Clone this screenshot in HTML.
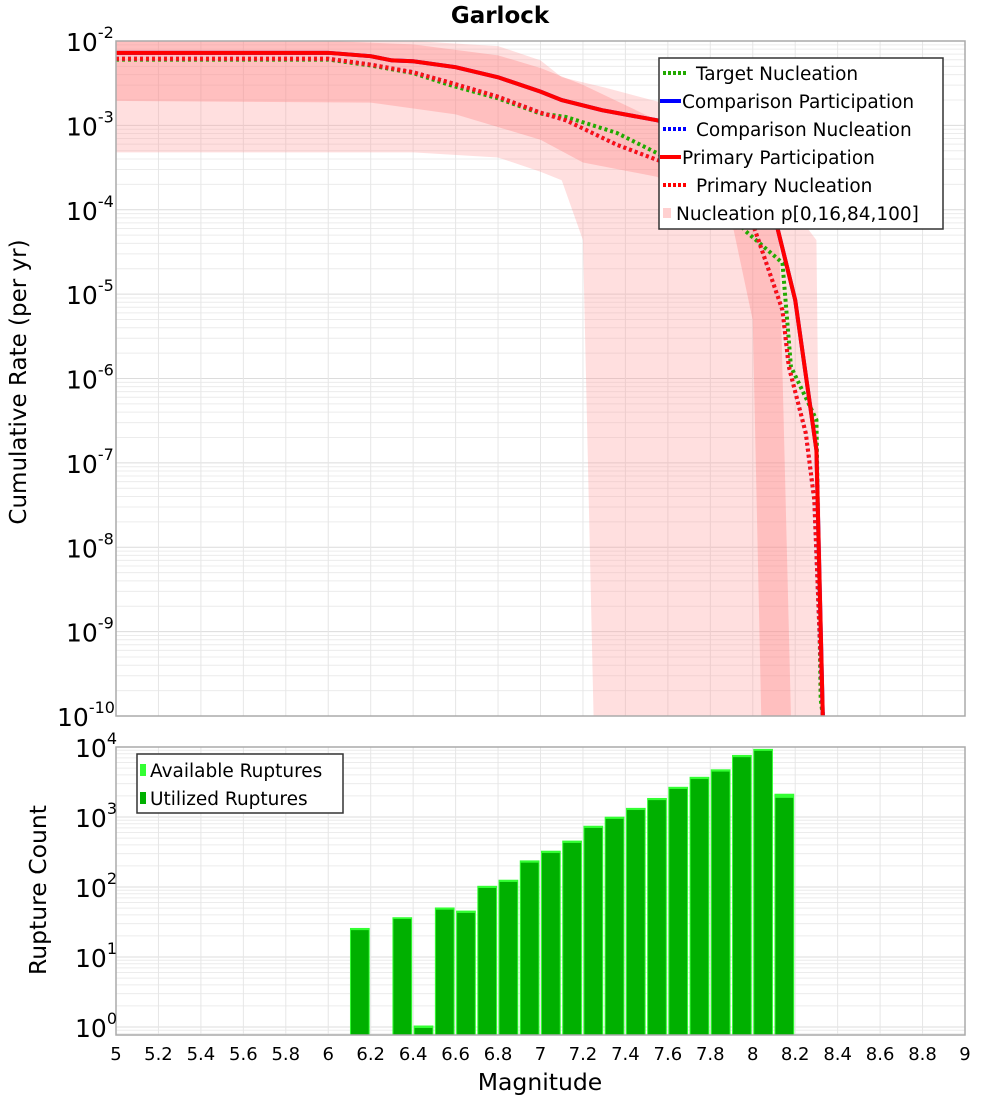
<!DOCTYPE html>
<html><head><meta charset="utf-8"><style>
html,body{margin:0;padding:0;background:#fff;}
svg{display:block;font-family:"DejaVu Sans","Liberation Sans",sans-serif;}
</style></head><body>
<svg id="chart" width="1000" height="1100" viewBox="0 0 1000 1100" xmlns="http://www.w3.org/2000/svg">
<text x="500" y="23" text-anchor="middle" font-size="23" font-weight="bold">Garlock</text>
<g id="topPlot"></g>
<g id="botPlot"></g>
<text transform="translate(26,382) rotate(-90)" text-anchor="middle" font-size="23">Cumulative Rate (per yr)</text>
<text transform="translate(46,890) rotate(-90)" text-anchor="middle" font-size="23.5">Rupture Count</text>
<text x="540" y="1090" text-anchor="middle" font-size="23.5">Magnitude</text>
</svg>
<script>
// ---- data (magnitude, log10 rate) ----
const primPartM = [5,6.0,6.2,6.3,6.4,6.6,6.8,7.0,7.1,7.29,7.55,7.83,7.99,8.1,8.2,8.3,8.33];
const primPartR = [-2.14,-2.14,-2.18,-2.23,-2.24,-2.31,-2.43,-2.6,-2.7,-2.82,-2.94,-3.14,-3.49,-4.05,-5.07,-6.85,-10];
const primNuclM = [5,6.0,6.2,6.4,6.57,6.8,7.0,7.12,7.36,7.55,7.83,7.99,8.14,8.17,8.25,8.29,8.33];
const primNuclR = [-2.21,-2.21,-2.28,-2.37,-2.49,-2.66,-2.85,-2.94,-3.23,-3.41,-3.61,-4.09,-5.19,-5.86,-6.65,-7.44,-10];
const targetM = [5,6.0,6.2,6.4,6.57,6.8,7.0,7.12,7.36,7.55,7.83,7.96,8.14,8.18,8.3,8.32,8.33];
const targetR = [-2.22,-2.22,-2.29,-2.38,-2.52,-2.68,-2.86,-2.9,-3.09,-3.33,-3.73,-4.24,-4.63,-5.86,-6.49,-9.8,-10];
const p100M = [5,6.4,6.8,7.0,7.1,7.3,7.6,7.95,8.3,8.31,8.34];
const p100R = [-2,-2,-2.06,-2.23,-2.43,-2.55,-2.75,-3.2,-4.36,-6.65,-10];
const p0M = [5,6.4,6.8,7.0,7.1,7.2,7.25];
const p0R = [-3.32,-3.32,-3.38,-3.55,-3.65,-4.36,-10];
const p84M = [5,6.0,6.4,6.8,7.0,7.2,7.4,7.6,7.8,8.0,8.12,8.18];
const p84R = [-2,-2,-2.04,-2.17,-2.32,-2.52,-2.76,-3.0,-3.3,-3.6,-3.88,-10];
const p16M = [5,6.2,6.6,7.0,7.2,7.55,7.91,8.0,8.04];
const p16R = [-2.71,-2.73,-2.87,-3.17,-3.44,-3.61,-4.24,-5.31,-10];
// bar histogram
const binStart = [6.1,6.3,6.4,6.5,6.6,6.7,6.8,6.9,7.0,7.1,7.2,7.3,7.4,7.5,7.6,7.7,7.8,7.9,8.0,8.1];
const utilized = [25,36,1,49,44,100,122,230,316,440,720,970,1300,1800,2600,3600,4600,7400,9100,1940];
const available = [26,37,1.05,51,46,104,127,240,330,460,750,1010,1350,1870,2700,3750,4800,7700,9400,2150];
const xTicks = ["5","5.2","5.4","5.6","5.8","6","6.2","6.4","6.6","6.8","7","7.2","7.4","7.6","7.8","8","8.2","8.4","8.6","8.8","9"];
const topExp = [-2,-3,-4,-5,-6,-7,-8,-9,-10];
const botExp = [4,3,2,1,0];

const NS="http://www.w3.org/2000/svg";
const L=116,R=965,T1=41,B1=716,T2=747,B2=1035;
const X=m=>L+(m-5)*(R-L)/4;
const Y1=lr=>T1+(-2-lr)*(B1-T1)/8;
const Y2=lc=>T2+(4-lc)*70;
function mk(tag,attrs,parent){const e=document.createElementNS(NS,tag);for(const k in attrs)e.setAttribute(k,attrs[k]);parent.appendChild(e);return e;}
const topG=document.getElementById('topPlot'), botG=document.getElementById('botPlot');
const defs=mk('defs',{},document.getElementById('chart'));
const c1=mk('clipPath',{id:'c1'},defs);mk('rect',{x:L,y:T1,width:R-L,height:B1-T1},c1);
const c2=mk('clipPath',{id:'c2'},defs);mk('rect',{x:L,y:T2,width:R-L,height:B2-T2},c2);

function grid(parent,T,B,Yf,lo,hi){
  for(let d=lo;d<hi;d++){for(let k=1;k<10;k++){const y=Yf(d+Math.log10(k));if(y<T-0.5||y>B+0.5)continue;
    const g=mk('line',{x1:L,x2:R,y1:y,y2:y,stroke:k==1?'#dcdcdc':'#ececec','stroke-width':1},parent);
    }}
  for(let i=0;i<=20;i++){const x=X(5+i*0.2);const g=mk('line',{x1:x,x2:x,y1:T,y2:B,stroke:'#e6e6e6','stroke-width':1},parent);
    }
}
grid(topG,T1,B1,Y1,-10,-2);
grid(botG,T2,B2,Y2,-1,4);

function band(upM,upR,loM,loR,fill,name){
  let pts=upM.map((m,i)=>X(m)+','+Y1(upR[i]));
  for(let i=loM.length-1;i>=0;i--)pts.push(X(loM[i])+','+Y1(loR[i]));
  const p=mk('polygon',{points:pts.join(' '),fill:fill,'clip-path':'url(#c1)'},topG);
  
}
band(p100M,p100R,p0M,p0R,'rgba(255,150,150,0.3)','band-p0-p100');
band(p84M,p84R,p16M,p16R,'rgba(255,120,120,0.3)','band-p16-p84');

function line(M,Rv,color,dash,w,name){
  const d=M.map((m,i)=>(i?'L':'M')+X(m)+' '+Y1(Rv[i])).join(' ');
  const p=mk('path',{d:d,fill:'none',stroke:color,'stroke-width':w,'clip-path':'url(#c1)'},topG);
  if(dash)p.setAttribute('stroke-dasharray',dash);
  
}
line(targetM,targetR,'#22aa00','3 3',4,'target-nucleation-line');
line(primNuclM,primNuclR,'#2222ff','3 3',4,'comparison-nucleation-line');
line(primNuclM,primNuclR,'#ff1010','3 3',4,'primary-nucleation-line');
line(primPartM,primPartR,'#2222ff',null,4,'comparison-participation-line');
line(primPartM,primPartR,'#ff0000',null,4,'primary-participation-line');

// bars
binStart.forEach((m,i)=>{
  const x0=X(m)+0.5,w=X(m+0.1)-X(m)-1.5;
  const ya=Y2(Math.log10(available[i])),yu=Y2(Math.log10(utilized[i]));
  const a=mk('rect',{x:x0,y:ya,width:w,height:B2-ya,fill:'#33ff33','clip-path':'url(#c2)'},botG);
  
  const u=mk('rect',{x:x0+1,y:yu+1,width:w-2,height:B2-yu-1,fill:'#00b000','clip-path':'url(#c2)'},botG);
  
});

// frames
[[T1,B1,topG],[T2,B2,botG]].forEach(([T,B,p])=>{const f=mk('rect',{x:L,y:T,width:R-L,height:B-T,fill:'none',stroke:'#aaaaaa','stroke-width':1.5},p);
  });

function ylab(parent,y,e){
  const t=mk('text',{x:L-2-String(e).length*9,y:y+10,'text-anchor':'end','font-size':25},parent);
  
  const s1=document.createElementNS(NS,'tspan');s1.textContent='10';t.appendChild(s1);
  const s2=document.createElementNS(NS,'tspan');s2.setAttribute('dy','-13');s2.setAttribute('font-size','16');s2.textContent=String(e);t.appendChild(s2);
  t.setAttribute('text-anchor','start');
  t.setAttribute('x',L-2-30-String(e).length*9);
}
topExp.forEach(e=>ylab(topG,Y1(e),e));
botExp.forEach(e=>ylab(botG,Y2(e),e));
xTicks.forEach((s,i)=>{const t=mk('text',{x:X(5+i*0.2),y:1060,'text-anchor':'middle','font-size':18},botG);t.textContent=s;
  });

// legends
const lg=mk('g',{},topG);
mk('rect',{x:659,y:58,width:284,height:171,fill:'#fff',stroke:'#333','stroke-width':1.5},lg);
const items=[['Target Nucleation','#22aa00','dot',696],['Comparison Participation','#0000ff','solid',682],['Comparison Nucleation','#0000ff','dot',696],['Primary Participation','#ff0000','solid',682],['Primary Nucleation','#ff0000','dot',696],['Nucleation p[0,16,84,100]','#ffd0d0','sq',676]];
items.forEach((it,i)=>{const y=73+i*28;
  if(it[2]=='sq'){mk('rect',{x:663,y:y-5,width:8,height:10,fill:it[1]},lg);}
  else{const l=mk('line',{x1:it[2]=='dot'?663:660,x2:it[2]=='dot'?688:681,y1:y,y2:y,stroke:it[1],'stroke-width':4},lg);if(it[2]=='dot')l.setAttribute('stroke-dasharray','3 2');}
  const t=mk('text',{x:it[3],y:y+7,'font-size':18.5},lg);t.textContent=it[0];
  });
const lb=mk('g',{},botG);
mk('rect',{x:137,y:754,width:206,height:59,fill:'#fff',stroke:'#333','stroke-width':1.5},lb);
[['Available Ruptures','#33ff33'],['Utilized Ruptures','#00b000']].forEach((it,i)=>{const y=770+i*28;
  mk('rect',{x:140,y:y-6,width:6,height:12,fill:it[1]},lb);
  const t=mk('text',{x:150,y:y+7,'font-size':18.5},lb);t.textContent=it[0];
  });
</script>
</body></html>
